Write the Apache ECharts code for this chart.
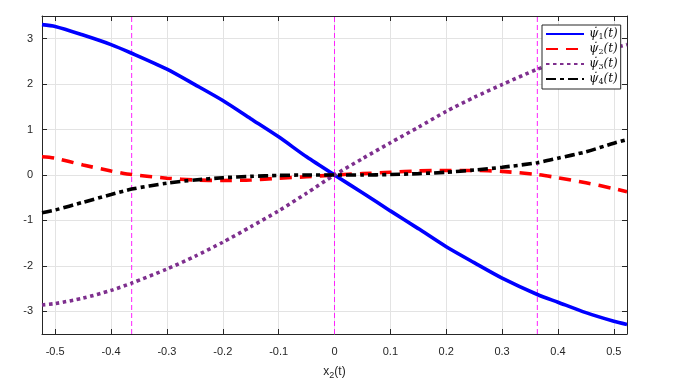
<!DOCTYPE html>
<html>
<head>
<meta charset="utf-8">
<script src="https://cdn.jsdelivr.net/npm/echarts@6/dist/echarts.min.js"></script>
<style>
  html, body { margin: 0; padding: 0; background: #fff; }
  #chart { width: 680px; height: 386px; }
</style>
</head>
<body>
<div id="chart"></div>
<script>
// sample points along x2(t)
var xs = [-0.5236, -0.5, -0.45, -0.4, -0.3631, -0.3, -0.25, -0.2, -0.15, -0.1, -0.05, 0,
  0.05, 0.1, 0.15, 0.2, 0.25, 0.3, 0.3631, 0.4, 0.45, 0.5, 0.5236]

var psi1 = [3.31, 3.27, 3.08, 2.87, 2.68, 2.33, 1.99, 1.64, 1.24, 0.84, 0.40, 0,
  -0.39, -0.79, -1.18, -1.58, -1.93, -2.27, -2.63, -2.80, -3.03, -3.22, -3.29]
var psi2 = [0.40, 0.37, 0.22, 0.09, 0.01, -0.07, -0.11, -0.12, -0.11, -0.07, -0.04, 0,
  0.03, 0.06, 0.09, 0.10, 0.10, 0.08, 0.01, -0.06, -0.17, -0.30, -0.37]
var psi3 = [-2.86, -2.83, -2.71, -2.54, -2.38, -2.07, -1.79, -1.48, -1.14, -0.79, -0.40, 0,
  0.36, 0.71, 1.05, 1.40, 1.71, 1.99, 2.33, 2.48, 2.65, 2.80, 2.87]
var psi4 = [-0.83, -0.77, -0.60, -0.43, -0.31, -0.18, -0.11, -0.06, -0.03, -0.01, 0, 0,
  0, 0.01, 0.03, 0.06, 0.11, 0.17, 0.27, 0.37, 0.51, 0.70, 0.78]

var seriesNames = ['ψ̇1(t)', 'ψ̇2(t)', 'ψ̇3(t)', 'ψ̇4(t)']
var xTicks = [-0.5, -0.4, -0.3, -0.2, -0.1, 0, 0.1, 0.2, 0.3, 0.4, 0.5]
var yTicks = [-3, -2, -1, 0, 1, 2, 3]
var vLines = [-0.3631, 0, 0.3631]

function pairs(ys) {
  return xs.map(function(x, i) { return [x, ys[i]] })
}

var axisColor = '#262626'
var labelFont = { color: axisColor, fontSize: 11, fontFamily: 'Liberation Sans, Arial, sans-serif' }
var serif = 'DejaVu Serif, serif'

function xAxisCfg(pos, main) {
  return {
    type: 'value',
    position: pos,
    min: -0.5236,
    max: 0.5236,
    axisLine: { onZero: false, lineStyle: { color: axisColor, width: 1 } },
    axisTick: { inside: true, length: 5, customValues: xTicks, lineStyle: { color: axisColor } },
    axisLabel: Object.assign({ show: main, margin: 12, customValues: xTicks }, labelFont),
    splitLine: { show: main, lineStyle: { color: '#e3e3e3', width: 1 } },
    name: main ? '{a|x}{b|2}{a|(t)}' : '',
    nameLocation: 'middle',
    nameGap: 30,
    nameTextStyle: {
      rich: {
        a: { fontSize: 12, color: axisColor, fontFamily: 'Liberation Sans, Arial, sans-serif' },
        b: { fontSize: 9, color: axisColor, fontFamily: 'Liberation Sans, Arial, sans-serif', padding: [7, 0, 0, 0] }
      }
    }
  }
}

function yAxisCfg(pos, main) {
  return {
    type: 'value',
    position: pos,
    min: -3.5,
    max: 3.5,
    axisLine: { onZero: false, lineStyle: { color: axisColor, width: 1 } },
    axisTick: { inside: true, length: 5, customValues: yTicks, lineStyle: { color: axisColor } },
    axisLabel: Object.assign({ show: main, margin: 9, customValues: yTicks }, labelFont),
    splitLine: { show: main, lineStyle: { color: '#e3e3e3', width: 1 } }
  }
}

function curve(name, data, color, type) {
  return {
    name: name,
    type: 'line',
    data: pairs(data),
    smooth: 0.25,
    symbol: 'none',
    showSymbol: false,
    lineStyle: { color: color, width: 3.6, type: type, cap: 'butt' },
    itemStyle: { color: color },
    z: 3
  }
}

// dashed magenta guide lines at the switching points
var guides = vLines.map(function(v, i) {
  return {
    name: 'guide' + i,
    type: 'line',
    data: [[v, -3.5], [v, 3.5]],
    symbol: 'none',
    silent: true,
    lineStyle: { color: '#ff20ff', width: 1, type: [5, 3] },
    itemStyle: { color: '#ff20ff' },
    z: 2
  }
})

var chart = echarts.init(document.getElementById('chart'))
chart.setOption({
  animation: false,
  backgroundColor: '#fff',
  grid: { left: 42, right: 53, top: 16, bottom: 52 },
  xAxis: [xAxisCfg('bottom', true), xAxisCfg('top', false)],
  yAxis: [yAxisCfg('left', true), yAxisCfg('right', false)],
  legend: {
    data: seriesNames,
    orient: 'vertical',
    left: 542,
    top: 25,
    backgroundColor: '#fff',
    borderColor: axisColor,
    borderWidth: 1,
    borderRadius: 0,
    padding: [3, 3, 3, 3],
    itemGap: 2,
    itemWidth: 38,
    itemHeight: 13,
    itemStyle: { opacity: 0 },
    formatter: function(name) {
      // ψ̇ + subscript index + (t)
      return '{p|' + name.slice(0, 2) + '}{s|' + name.charAt(2) + '}{p|' + name.slice(3) + '}'
    },
    textStyle: {
      color: '#111',
      rich: {
        p: { fontSize: 12, fontStyle: 'italic', fontFamily: serif, color: '#111' },
        s: { fontSize: 8, fontFamily: serif, color: '#111', padding: [6, 0, 0, 0] }
      }
    }
  },
  series: guides.concat([
    curve(seriesNames[0], psi1, '#0000ff', 'solid'),
    curve(seriesNames[1], psi2, '#ff0000', [12, 8]),
    curve(seriesNames[2], psi3, '#7e2f8e', [3.5, 3.5]),
    curve(seriesNames[3], psi4, '#000000', [10, 4, 4, 4])
  ])
})
</script>
</body>
</html>
